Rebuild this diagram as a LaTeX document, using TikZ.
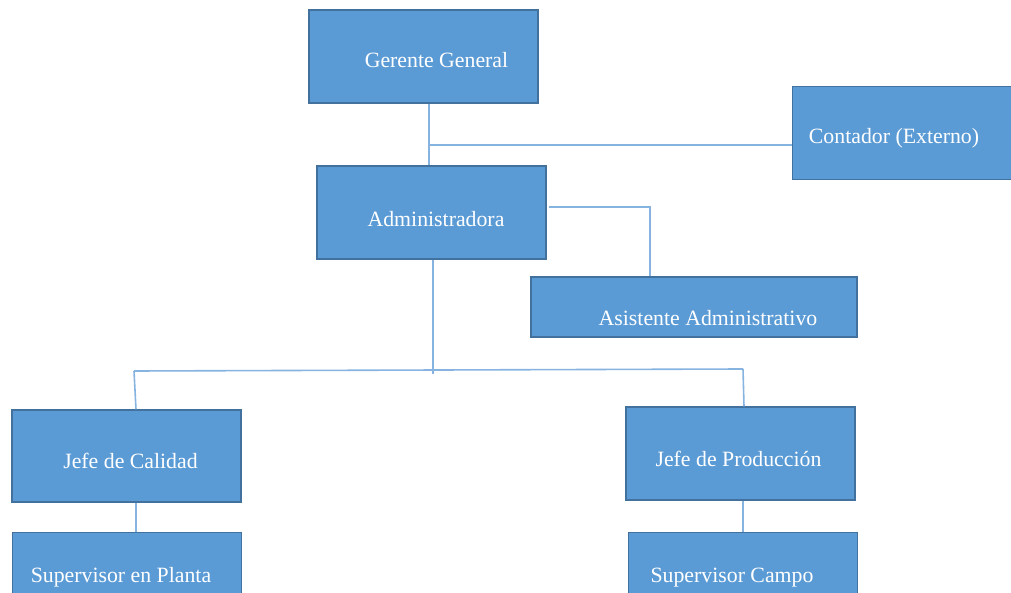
\documentclass[tikz,border=0pt]{standalone}
\usepackage{fontspec}
\setmainfont{Liberation Serif}
\begin{document}
\begin{tikzpicture}[x=1pt,y=-1pt,
  box/.style={draw=boxedge,fill=boxfill,line width=1.2pt,inner sep=0pt},
  txt/.style={text=white,font=\fontsize{21.8}{24}\selectfont,anchor=base,inner sep=0pt},
  conn/.style={draw=linecol,line width=1.6pt}]
\definecolor{boxfill}{HTML}{5B9BD5}
\definecolor{boxedge}{HTML}{41719C}
\definecolor{linecol}{HTML}{86B3E0}
\useasboundingbox (0,0) rectangle (1011,593);
% boxes
\node[box,minimum width=229pt,minimum height=93pt] (gg) at (423.5,56.5) {};
\node[box,minimum width=222pt,minimum height=93pt,anchor=north west] (ct) at (792,86) {};
\node[box,minimum width=229pt,minimum height=93pt] (ad) at (431.5,212.5) {};
\node[box,minimum width=326pt,minimum height=60pt] (as) at (694,307) {};
\node[box,minimum width=229pt,minimum height=92pt] (jc) at (126.5,456) {};
\node[box,minimum width=229pt,minimum height=70pt,anchor=north west] (sp) at (12,532) {};
\node[box,minimum width=229pt,minimum height=93pt] (jp) at (740.5,453.5) {};
\node[box,minimum width=229pt,minimum height=70pt,anchor=north west] (sc) at (628,532) {};
% texts
\node[txt] (tgg) at (436.5,68) {Gerente General};
\node[txt] (tct) at (894,144) {Contador (Externo)};
\node[txt] (tad) at (436,227) {Administradora};
\node[txt] (tas) at (708,326) {Asistente Administrativo};
\node[txt] (tjc) at (130.5,468) {Jefe de Calidad};
\node[txt] (tsp) at (121,582) {Supervisor en Planta};
\node[txt] (tjp) at (738.5,466) {Jefe de Producción};
\node[txt] (tsc) at (732,582) {Supervisor Campo};
% junction coordinates
\coordinate (j1) at (429,145);
\coordinate (j2) at (650,207);
\coordinate (j3) at (433,371);
\coordinate (jl) at (134,371);
\coordinate (jr) at (743,369);
% connectors
\draw[conn] (gg.south -| j1) -- (ad.north -| j1);
\draw[conn] (j1) -- (j1 -| ct.west);
\draw[conn] ([xshift=2pt]ad.east |- j2) -- (j2) -- (as.north -| j2);
\draw[conn] (ad.south -| j3) -- ([yshift=-3pt]j3);
\draw[conn] (jl) -- (jr);
\draw[conn] (jl) -- ([xshift=2pt]jc.north -| jl);
\draw[conn] (jr) -- ([xshift=1pt]jp.north -| jr);
\draw[conn] (jc.south -| 136,0) -- (sp.north -| 136,0);
\draw[conn] (jp.south -| 743,0) -- (sc.north -| 743,0);
\end{tikzpicture}
\end{document}
